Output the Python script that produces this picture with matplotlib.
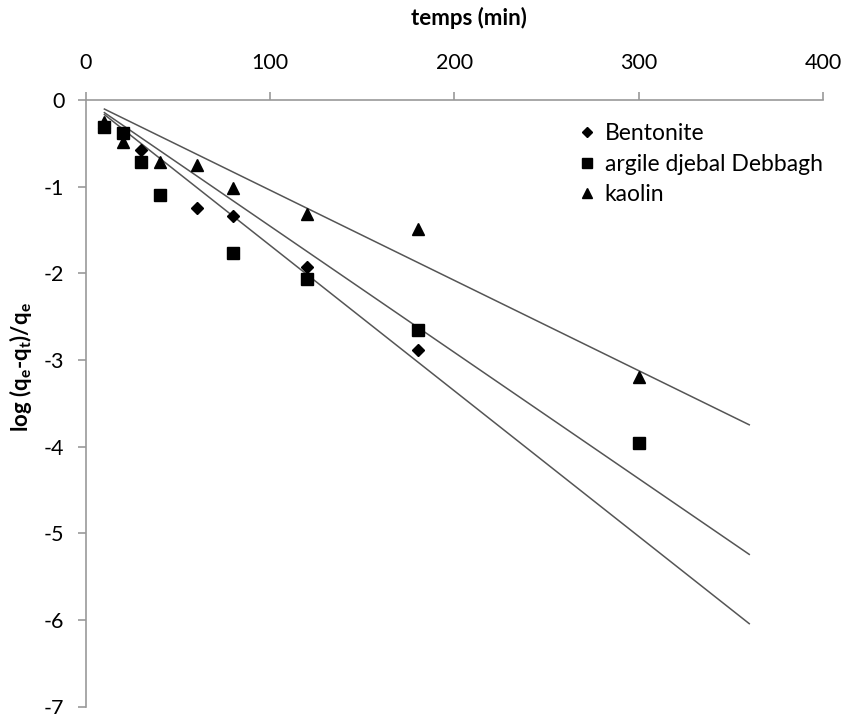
import numpy as np
import matplotlib
matplotlib.use("Agg")
import matplotlib.pyplot as plt

plt.rcParams['font.family'] = ['Lato', 'DejaVu Sans']

# Data
bent_t = [10, 20, 30, 40, 60, 80, 120, 180]
bent_y = [-0.30, -0.40, -0.58, -1.09, -1.24, -1.34, -1.93, -2.88]
arg_t = [10, 20, 30, 40, 80, 120, 180, 300]
arg_y = [-0.315, -0.385, -0.72, -1.09, -1.76, -2.06, -2.65, -3.96]
kao_t = [10, 20, 40, 60, 80, 120, 180, 300]
kao_y = [-0.25, -0.48, -0.72, -0.75, -1.02, -1.31, -1.49, -3.19]
labels = ["Bentonite", "argile djebal Debbagh", "kaolin"]
trend_range = [10, 360]
xticks = [0, 100, 200, 300, 400]
yticks = [0, -1, -2, -3, -4, -5, -6, -7]

fig = plt.figure(figsize=(8.47, 7.14), dpi=100)
ax = fig.add_axes([0.1015, 0.0102, 0.8701, 0.8497])

series = [(bent_t, bent_y, 'D', 5.8, 3), (arg_t, arg_y, 's', 8, 4), (kao_t, kao_y, '^', 8, 5)]
handles = []
for (t, y, m, ms, z), lab in zip(series, labels):
    t = np.array(t, float); y = np.array(y, float)
    slope = np.sum(t * y) / np.sum(t * t)
    xs = np.array(trend_range, float)
    ax.plot(xs, slope * xs, color='#555555', lw=1.1, zorder=2)
    h, = ax.plot(t, y, linestyle='none', marker=m, markersize=ms, color='black', zorder=z, label=lab)
    handles.append(h)

ax.set_xlim(0, 400)
ax.set_ylim(-7, 0)
ax.xaxis.set_ticks_position('top')
ax.xaxis.set_label_position('top')
ax.set_xticks(xticks)
ax.set_yticks(yticks)
ax.set_yticklabels([str(v) for v in yticks])
for s in ['right', 'bottom']:
    ax.spines[s].set_visible(False)
for s in ['left', 'top']:
    ax.spines[s].set_color('#999999')
    ax.spines[s].set_linewidth(1.2)
ax.tick_params(axis='both', direction='out', length=5.5, color='#999999', width=1.2, labelsize=15.5)
ax.tick_params(axis='x', pad=14)
ax.tick_params(axis='y', pad=10)
ax.set_xlabel('temps (min)', fontsize=16, fontweight='bold', labelpad=18)
ax.xaxis.set_label_coords(0.52, 1.0 + 82 / 607)
ax.xaxis.label.set_va('center')
ax.set_ylabel(r'log (q$_\mathregular{e}$-q$_\mathregular{t}$)/q$_\mathregular{e}$', fontsize=16, fontweight='bold', labelpad=8)
ax.yaxis.set_label_coords(-0.07, 0.56)

leg = ax.legend(handles=handles, loc='upper left', bbox_to_anchor=(0.643, 0.996), frameon=False,
                fontsize=16.5, handlelength=0.6, handletextpad=0.45, labelspacing=0.42, markerscale=0.9)

fig.savefig('out.png', dpi=100)
